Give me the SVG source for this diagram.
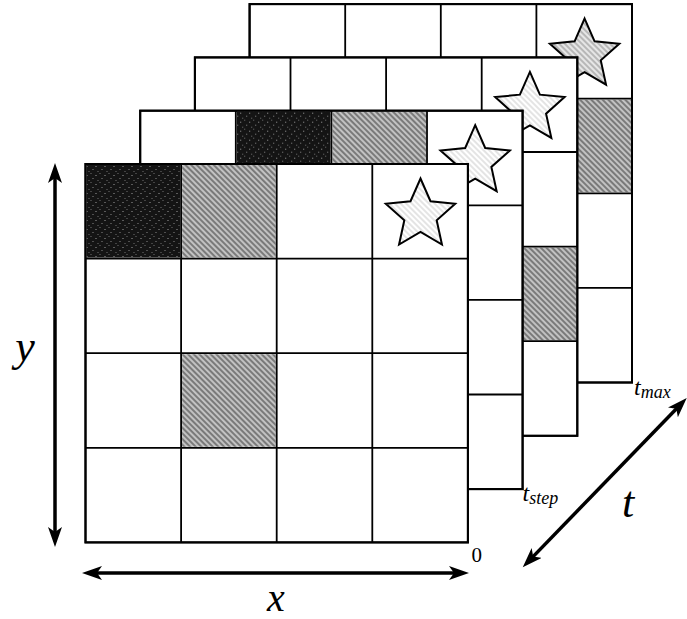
<svg xmlns="http://www.w3.org/2000/svg" xmlns:xlink="http://www.w3.org/1999/xlink" width="687" height="619" viewBox="0 0 687 619">
<style>
.frame{fill:#fff;stroke:#000;stroke-width:2}
.gl{fill:none;stroke:#000;stroke-width:1.8}
.gray{fill:url(#hatch)}
.black{fill:url(#noise)}
.star{stroke:#000;stroke-width:2;stroke-linejoin:miter}
.arrow{fill:none;stroke:#000;stroke-width:3.5}
.lbl{font-family:"Liberation Serif","DejaVu Serif",serif;font-style:italic;fill:#000}
.num{font-family:"Liberation Serif","DejaVu Serif",serif;fill:#000}
</style>
<defs>
<pattern id="hatch" patternUnits="userSpaceOnUse" width="4" height="4" patternTransform="rotate(45)">
<rect width="4" height="4" fill="#c2c2c2"/>
<line x1="0" y1="2" x2="4" y2="2" stroke="#4a4a4a" stroke-width="1.2"/>
</pattern>
<pattern id="starhatch" patternUnits="userSpaceOnUse" width="4" height="4" patternTransform="rotate(45)">
<rect width="4" height="4" fill="#fff"/>
<line x1="0" y1="2" x2="4" y2="2" stroke="#bbb" stroke-width="0.8"/>
</pattern>
<pattern id="starhatch2" patternUnits="userSpaceOnUse" width="4" height="4" patternTransform="rotate(45)">
<rect width="4" height="4" fill="#e6e6e6"/>
<line x1="0" y1="2" x2="4" y2="2" stroke="#888" stroke-width="1"/>
</pattern>
<pattern id="noise" patternUnits="userSpaceOnUse" width="9" height="9">
<rect width="9" height="9" fill="#141414"/>
<rect x="1" y="2" width="1" height="1" fill="#fff" opacity="0.6"/>
<rect x="5" y="0" width="1" height="1" fill="#fff" opacity="0.4"/>
<rect x="7" y="5" width="1" height="1" fill="#fff" opacity="0.5"/>
<rect x="3" y="7" width="1" height="1" fill="#fff" opacity="0.4"/>
</pattern>
<path id="gridlines" d="M95.6,0V378.4M191.2,0V378.4M286.8,0V378.4M0,94.6H382.4M0,189.2H382.4M0,283.8H382.4"/>
<path id="starshape" d="M0,-36.5 L9.99,-13.75 L34.71,-11.28 L16.17,5.25 L21.45,29.53 L0,17 L-21.45,29.53 L-16.17,5.25 L-34.71,-11.28 L-9.99,-13.75 Z"/>
<marker id="ah" markerUnits="userSpaceOnUse" markerWidth="22" markerHeight="14" refX="10" refY="7" orient="auto-start-reverse" viewBox="0 0 22 14">
<path d="M0,0 L20,7 L0,14 L5,7 Z" fill="#000"/>
</marker>
</defs>

<g id="layer-tmax" transform="translate(249.6,4.1)">
<rect class="frame" x="0" y="0" width="382.4" height="378.4"/>
<rect class="gray" x="287.8" y="95.6" width="93.6" height="92.6"/>
<use xlink:href="#gridlines" class="gl"/>
<rect class="frame" x="0" y="0" width="382.4" height="378.4" style="fill:none"/>
<use xlink:href="#starshape" class="star" fill="url(#starhatch2)" transform="translate(335,51)"/>
</g>

<g id="layer-3" transform="translate(194.9,57.4)">
<rect class="frame" x="0" y="0" width="382.4" height="378.4"/>
<rect class="gray" x="287.8" y="190.2" width="93.6" height="92.6"/>
<use xlink:href="#gridlines" class="gl"/>
<rect class="frame" x="0" y="0" width="382.4" height="378.4" style="fill:none"/>
<use xlink:href="#starshape" class="star" fill="url(#starhatch)" transform="translate(335,51)"/>
</g>

<g id="layer-tstep" transform="translate(140.2,110.7)">
<rect class="frame" x="0" y="0" width="382.4" height="378.4"/>
<rect class="black" x="96.6" y="1" width="93.6" height="92.6"/>
<rect class="gray" x="192.2" y="1" width="93.6" height="92.6"/>
<use xlink:href="#gridlines" class="gl"/>
<rect class="frame" x="0" y="0" width="382.4" height="378.4" style="fill:none"/>
<use xlink:href="#starshape" class="star" fill="url(#starhatch)" transform="translate(335,51)"/>
</g>

<g id="layer-0" transform="translate(85.5,164)">
<rect class="frame" x="0" y="0" width="382.4" height="378.4"/>
<rect class="black" x="1" y="1" width="93.6" height="92.6"/>
<rect class="gray" x="96.6" y="1" width="93.6" height="92.6"/>
<rect class="gray" x="96.6" y="190.2" width="93.6" height="92.6"/>
<use xlink:href="#gridlines" class="gl"/>
<rect class="frame" x="0" y="0" width="382.4" height="378.4" style="fill:none"/>
<use xlink:href="#starshape" class="star" fill="url(#starhatch)" transform="translate(335,51)"/>
</g>

<g id="connectors">
<line class="arrow" x1="55" y1="173" x2="55" y2="537" marker-start="url(#ah)" marker-end="url(#ah)"/>
<line class="arrow" x1="92" y1="573" x2="459" y2="573" marker-start="url(#ah)" marker-end="url(#ah)"/>
<line class="arrow" x1="529.7" y1="560.1" x2="679.8" y2="405.2" marker-start="url(#ah)" marker-end="url(#ah)"/>
</g>

<g id="labels">
<text class="lbl" x="25" y="361" font-size="44" text-anchor="middle">y</text>
<text class="lbl" x="276" y="611" font-size="40" text-anchor="middle">x</text>
<text class="lbl" x="628" y="517" font-size="44" text-anchor="middle">t</text>
<text class="lbl" x="634" y="395" font-size="24">t<tspan font-size="18" dy="3">max</tspan></text>
<text class="lbl" x="522.5" y="501" font-size="24">t<tspan font-size="18" dy="3">step</tspan></text>
<text class="num" x="471.5" y="561.5" font-size="21">0</text>
</g>
</svg>
